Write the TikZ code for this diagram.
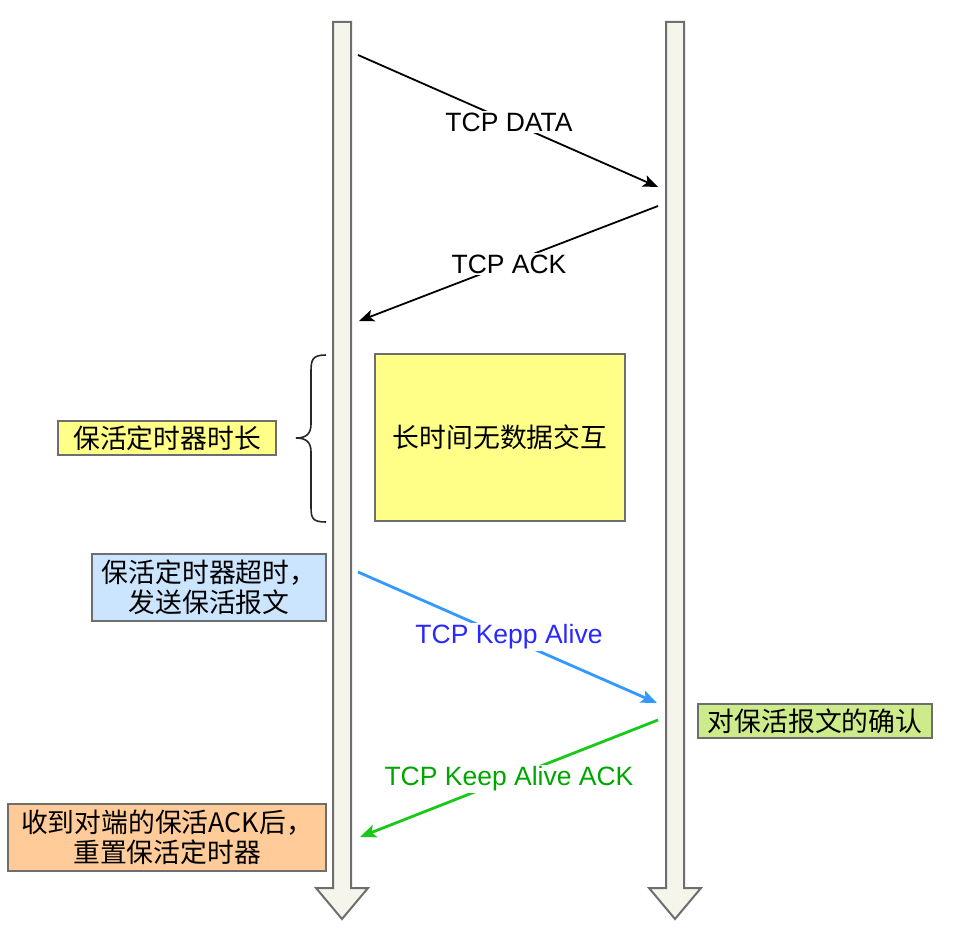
\documentclass[tikz,border=0pt]{standalone}
\usepackage{fontspec}
\setmainfont{Liberation Sans}
\newfontfamily\cjk{Noto Sans CJK SC}
\usetikzlibrary{arrows.meta}
\definecolor{lifefill}{HTML}{F5F5EC}
\definecolor{lifedraw}{HTML}{6E6E6E}
\definecolor{yel}{HTML}{FFFF88}
\definecolor{lblue}{HTML}{CCE5FF}
\definecolor{lorange}{HTML}{FFCC99}
\definecolor{lgreen}{HTML}{CDEB8B}
\definecolor{bluearrow}{HTML}{3399FF}
\definecolor{bluetext}{HTML}{2828FF}
\definecolor{greenarrow}{HTML}{19C819}
\definecolor{greentext}{HTML}{00A600}
\begin{document}
\begin{tikzpicture}[x=1pt,y=-1pt,
  lifeline/.style={draw=lifedraw,fill=lifefill,line width=2pt,line join=miter},
  msg/.style={line width=1.8pt,-{Stealth[length=15pt,width=12pt,inset=3.5pt]}},
  cmsg/.style={line width=2.8pt,-{Stealth[length=16pt,width=13pt,inset=3.5pt]}},
  lbl/.style={fill=white,inner sep=2pt,font=\fontsize{26.5}{30}\selectfont},
  box/.style={draw=lifedraw,line width=1.6pt,inner sep=0pt,align=center,font=\cjk\fontsize{26.8}{30}\selectfont}]
\useasboundingbox (0,0) rectangle (968,936);
% lifelines
\path[lifeline] (333,22) -- (351,22) -- (351,888) -- (368,888) -- (342,919) -- (316,888) -- (333,888) -- cycle;
\path[lifeline] (666,22) -- (684,22) -- (684,888) -- (701,888) -- (675,919) -- (649,888) -- (666,888) -- cycle;
% endpoints
\coordinate (d1) at (358,55);
\coordinate (d2) at (658,187);
\coordinate (a1) at (658,206);
\coordinate (a2) at (359,321);
\coordinate (k1) at (358,572);
\coordinate (k2) at (657,703);
\coordinate (g1) at (658,720);
\coordinate (g2) at (360,837);
% messages
\draw[msg] (d1) -- (d2);
\node[lbl] (ldata) at (509,122) {TCP DATA};
\draw[msg] (a1) -- (a2);
\node[lbl] (lack) at (509,264) {TCP ACK};
\draw[cmsg,bluearrow] (k1) -- (k2);
\node[lbl,text=bluetext] (lka) at (509,637) {TCP Kepp Alive};
\draw[cmsg,greenarrow] (g1) -- (g2);
\node[lbl,text=greentext] (lkaa) at (509,779) {TCP Keep Alive ACK};
% boxes
\node[box,fill=yel,minimum width=250pt,minimum height=167pt] (idle) at (500,437.5) {长时间无数据交互};
\node[box,fill=yel,minimum width=218pt,minimum height=34pt] (dur) at (167,438) {保活定时器时长};
\node[box,fill=lblue,minimum width=234pt,minimum height=67pt] (timeout) at (209,587.5) {保活定时器超时，\\发送保活报文};
\node[box,fill=lorange,minimum width=318pt,minimum height=67pt] (reset) at (167,837.5) {收到对端的保活ACK后，\\重置保活定时器};
\node[box,fill=lgreen,minimum width=234pt,minimum height=34pt] (confirm) at (815,721) {对保活报文的确认};
% brace
\draw[line width=1.6pt,black!85] (326,355) .. controls (312,355) and (311,360) .. (311,372) -- (311,424) .. controls (311,434) and (306,438) .. (296,438)
  .. controls (306,438) and (311,442) .. (311,452) -- (311,506) .. controls (311,518) and (312,522) .. (326,522);
\end{tikzpicture}
\end{document}
